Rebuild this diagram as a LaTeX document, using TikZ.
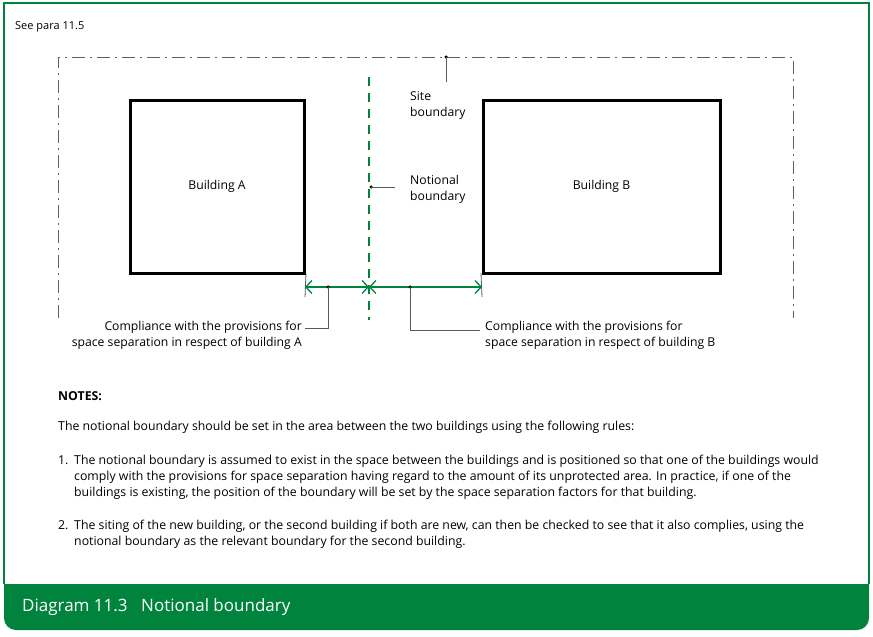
\documentclass[tikz,border=0pt]{standalone}
\usepackage{fontspec}
\setmainfont{Open Sans}
\usetikzlibrary{arrows.meta}
\definecolor{dgreen}{HTML}{00843D}
\tikzset{
  bldg/.style={draw, line width=3pt, inner sep=0pt},
  siteline/.style={gray!75!black, line width=1pt, dash pattern=on 13pt off 5pt on 2pt off 5pt},
  notional/.style={dgreen, line width=1.5pt, dash pattern=on 9pt off 7pt},
  leader/.style={gray!70!black, line width=0.9pt},
  tick/.style={gray!70!black, line width=0.8pt},
  dimline/.style={dgreen, line width=1.3pt, {Straight Barb[length=6pt,width=13pt]}-{Straight Barb[length=6pt,width=13pt]}},
  lbl/.style={font=\fontsize{12.2}{16}\selectfont, inner sep=0pt},
  body/.style={font=\fontsize{12.3}{16}\selectfont, inner sep=0pt, align=left, anchor=north west},
  dot/.style={circle, fill=black, inner sep=0pt, minimum size=3.5pt},
}
\begin{document}
\begin{tikzpicture}[x=1pt,y=-1pt]
  \useasboundingbox (0,0) rectangle (873,637);
  % frame and caption band
  \fill[dgreen, rounded corners=12pt] (4,560) rectangle (869,630);
  \fill[white] (4,555) rectangle (869,584);
  \draw[dgreen, line width=1.3pt] (4,584) -- (4,3) -- (869,3) -- (869,584);
  \node[font=\fontsize{17}{20}\selectfont, text=white, anchor=west, inner sep=0pt] (caption) at (22,607) {Diagram 11.3\hspace{0.8em}Notional boundary};
  \node[font=\fontsize{11}{12}\selectfont, anchor=north west, inner sep=0pt] (seepara) at (15,21) {See para 11.5};

  % site boundary
  \draw[siteline] (58,318) -- (58,57) -- (793,57) -- (793,318);
  \node[dot] (sitedot) at (446,57) {};
  \coordinate (siteend) at (446,82);
  \draw[leader] (sitedot.center) -- (siteend);
  \node[lbl, align=left, anchor=north west] (sitetxt) at (410,91) {Site\\boundary};

  % buildings
  \node[bldg, minimum width=174pt, minimum height=173pt, lbl] (bldgA) at (217,186.5) {Building A};
  \node[bldg, minimum width=237pt, minimum height=173pt, lbl] (bldgB) at (601.5,186.5) {Building B};

  % notional boundary
  \coordinate (nbtop) at (369,77);
  \coordinate (nbbot) at (369,320);
  \draw[notional] (nbtop) -- (nbbot);
  \node[dot] (nbdot) at (371,187) {};
  \coordinate (nbend) at (395,187);
  \draw[leader] (nbdot.center) -- (nbend);
  \node[lbl, align=left, anchor=north west] (nbtxt) at (410,175) {Notional\\boundary};

  % space separation dimensions
  \coordinate (tickA) at (305,297);
  \coordinate (tickB) at (482,297);
  \draw[tick] (bldgA.south east) ++(0.5,-1.5) -- (tickA);
  \draw[tick] (bldgB.south west) ++(-0.5,-1.5) -- (tickB);
  \coordinate (dimA) at (305,287);
  \coordinate (dimN) at (369,287);
  \coordinate (dimB) at (482,287);
  \draw[dimline] (dimA) -- (dimN);
  \draw[dimline] (dimN) -- (dimB);

  \node[dot] (adot) at (328,287) {};
  \coordinate (acorner) at (328,328);
  \coordinate (aend) at (305,328);
  \draw[leader] (adot.center) -- (acorner) -- (aend);
  \node[lbl, align=right, anchor=north east] (atxt) at (302,321) {Compliance with the provisions for\\space separation in respect of building A};

  \node[dot] (bdot) at (410,287) {};
  \coordinate (bcorner) at (410,330);
  \coordinate (bend) at (480,330);
  \draw[leader] (bdot.center) -- (bcorner) -- (bend);
  \node[lbl, align=left, anchor=north west] (btxt) at (485,321) {Compliance with the provisions for\\space separation in respect of building B};

  % notes
  \node[body, font=\fontsize{12.3}{16}\selectfont\bfseries] (notes) at (58,391) {NOTES:};
  \node[body] (intro) at (58,421) {The notional boundary should be set in the area between the two buildings using the following rules:};
  \node[body] (num1) at (58,455) {\vphantom{Th}1.};
  \node[body] (rule1) at (74,455) {The notional boundary is assumed to exist in the space between the buildings and is positioned so that one of the buildings would\\comply with the provisions for space separation having regard to the amount of its unprotected area. In practice, if one of the\\buildings is existing, the position of the boundary will be set by the space separation factors for that building.};
  \node[body] (num2) at (58,520) {\vphantom{Th}2.};
  \node[body] (rule2) at (74,520) {The siting of the new building, or the second building if both are new, can then be checked to see that it also complies, using the\\notional boundary as the relevant boundary for the second building.};
\end{tikzpicture}
\end{document}
